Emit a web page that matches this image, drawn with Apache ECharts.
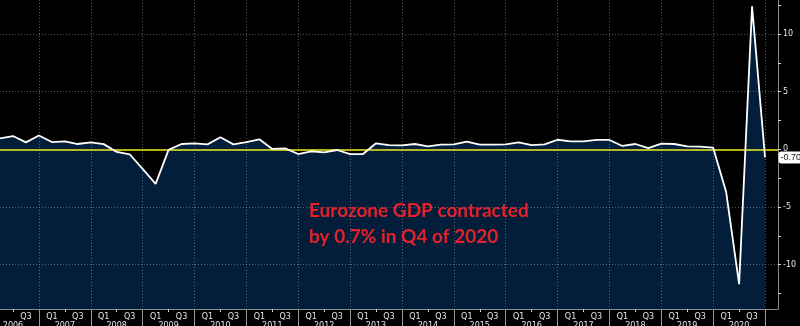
<!DOCTYPE html>
<html>
<head>
<meta charset="utf-8">
<script src="https://cdn.jsdelivr.net/npm/echarts@6/dist/echarts.min.js"></script>
<style>
  html, body { margin: 0; padding: 0; background: #000; }
  #chart { width: 800px; height: 326px; }
</style>
</head>
<body>
<div id="chart"></div>
<script>
// Eurozone GDP, quarter-on-quarter % change, 2006 Q1 – 2020 Q4
var years = [2006, 2007, 2008, 2009, 2010, 2011, 2012, 2013, 2014, 2015, 2016, 2017, 2018, 2019, 2020];
var quarters = ['Q1', 'Q2', 'Q3', 'Q4'];
var gdpQoQ = [
  0.95, 1.15, 0.6, 1.2,
  0.63, 0.69, 0.46, 0.6,
  0.45, -0.23, -0.43, -1.7,
  -3.0, -0.05, 0.46, 0.52,
  0.43, 1.04, 0.43, 0.63,
  0.87, 0.03, 0.08, -0.41,
  -0.17, -0.26, -0.06, -0.41,
  -0.41, 0.52, 0.37, 0.35,
  0.46, 0.26, 0.4, 0.43,
  0.66, 0.4, 0.4, 0.43,
  0.6, 0.37, 0.43, 0.83,
  0.69, 0.69, 0.81, 0.81,
  0.29, 0.46, 0.11, 0.49,
  0.46, 0.26, 0.23, 0.14,
  -3.7, -11.7, 12.4, -0.7
];
var yLabelValues = [-10, -5, 0, 5, 10];
var yTickValues = [-12.5, -10, -7.5, -5, -2.5, 0, 2.5, 5, 7.5, 10, 12.5];
var gridLineValues = [-10, -5, 5, 10];
var noteLines = ['Eurozone GDP contracted', 'by 0.7% in Q4 of 2020'];

// quarter categories, plus one empty slot after the last quarter
var categories = [];
years.forEach(function (y) {
  quarters.forEach(function (q) { categories.push(y + ' ' + q); });
});
categories.push((years[years.length - 1] + 1) + ' Q1');

var lastIndex = gdpQoQ.length - 1;
var lastValue = gdpQoQ[lastIndex];

var chart = echarts.init(document.getElementById('chart'), null, { renderer: 'canvas' });

var gridBox = { left: 0, right: 22, top: 0, bottom: 17, outerBoundsMode: 'none', containLabel: false };
var axisGray = '#8c8c8c';
var textColor = '#e6e6e6';
var dotted = { color: 'rgba(160,160,160,0.55)', type: [1, 2], width: 1 };

chart.setOption({
  backgroundColor: '#000000',
  animation: false,
  grid: [
    Object.assign({}, gridBox),
    Object.assign({}, gridBox)
  ],
  xAxis: [
    {
      type: 'category',
      gridIndex: 0,
      data: categories,
      boundaryGap: false,
      z: 3,
      axisLine: { show: true, onZero: false, lineStyle: { color: axisGray, width: 1 } },
      axisTick: {
        show: true,
        length: 3,
        interval: function (i) { return i % 4 === 1; },
        lineStyle: { color: '#cfcfcf' }
      },
      axisLabel: {
        interval: 0,
        color: textColor,
        fontFamily: 'DejaVu Sans',
        fontSize: 8,
        lineHeight: 9,
        margin: 3,
        formatter: function (v, i) {
          if (i === 0 || i > lastIndex) return '';
          var q = i % 4;
          if (q === 0) return 'Q1';
          if (q === 2) return 'Q3';
          if (q === 1) return '\n' + years[Math.floor(i / 4)];
          return '';
        }
      },
      splitLine: {
        show: true,
        interval: function (i) { return i % 4 === 3; },
        lineStyle: dotted
      }
    },
    {
      // year separators below the axis
      type: 'category',
      gridIndex: 1,
      data: categories,
      boundaryGap: false,
      position: 'bottom',
      z: 3,
      axisLine: { show: false, onZero: false },
      axisLabel: { show: false },
      splitLine: { show: false },
      axisTick: {
        show: true,
        length: 17,
        interval: function (i) { return i % 4 === 3; },
        lineStyle: { color: '#9a9a9a' }
      }
    }
  ],
  yAxis: [
    {
      type: 'value',
      gridIndex: 0,
      position: 'right',
      min: -13.85,
      max: 12.95,
      z: 3,
      axisLine: { show: true, lineStyle: { color: axisGray, width: 1 } },
      axisTick: {
        show: true,
        length: 3,
        customValues: yTickValues,
        lineStyle: { color: '#cfcfcf' }
      },
      axisLabel: {
        show: true,
        customValues: yLabelValues,
        color: textColor,
        fontFamily: 'DejaVu Sans',
        fontSize: 8,
        margin: 5
      },
      splitLine: { show: false }
    },
    {
      type: 'value',
      gridIndex: 1,
      min: -13.85,
      max: 12.95,
      show: false
    }
  ],
  series: [
    {
      // navy fill below the GDP line
      type: 'line',
      xAxisIndex: 0,
      yAxisIndex: 0,
      data: gdpQoQ,
      symbol: 'none',
      z: 1,
      lineStyle: { width: 0, opacity: 0 },
      areaStyle: { color: '#021e3a', opacity: 1, origin: 'start' },
      silent: true
    },
    {
      type: 'line',
      xAxisIndex: 0,
      yAxisIndex: 0,
      data: gdpQoQ,
      symbol: 'none',
      z: 5,
      lineStyle: { color: '#ffffff', width: 1.8 },
      markLine: {
        silent: true,
        symbol: 'none',
        label: { show: false },
        data: gridLineValues.map(function (v) {
          return { yAxis: v, lineStyle: dotted };
        }).concat([{
          yAxis: 0,
          lineStyle: { color: '#f2ee1c', type: 'solid', width: 1.5 }
        }])
      },
      markPoint: {
        silent: true,
        symbol: 'circle',
        symbolSize: 1,
        itemStyle: { color: 'rgba(0,0,0,0)' },
        data: [{ coord: [lastIndex, lastValue], value: lastValue }],
        label: {
          show: true,
          position: 'right',
          distance: 13,
          formatter: function (p) { return p.value.toFixed(2); },
          color: '#111111',
          backgroundColor: '#ffffff',
          fontFamily: 'Liberation Sans',
          fontSize: 9,
          padding: [2, 1, 1, 2],
          borderRadius: 3
        }
      }
    }
  ],
  graphic: [
    {
      type: 'text',
      left: 309,
      top: 198,
      z: 10,
      style: {
        text: noteLines.join('\n'),
        fill: '#e5212b',
        font: 'bold 19px Lato',
        lineHeight: 26
      }
    }
  ]
});
</script>
</body>
</html>
